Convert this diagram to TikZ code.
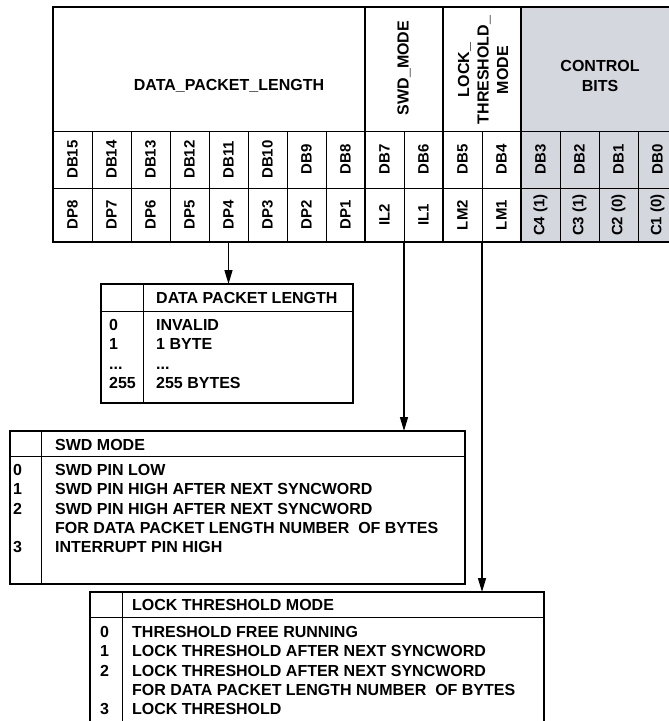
\documentclass[tikz,border=0pt]{standalone}
\usepackage{fontspec}
\setmainfont{Liberation Sans}
\usepackage{tikz}
\usetikzlibrary{arrows.meta}
\definecolor{ctrlgray}{RGB}{212,215,222}

\begin{document}
\begin{tikzpicture}[x=1pt, y=-1pt,
				thickline/.style={line width=2pt},
				thinline/.style={line width=0.9pt},
				bitlabel/.style={rotate=90, inner sep=0pt, font=\fontsize{15}{17}\selectfont\bfseries},
				fieldlabel/.style={align=center, inner sep=0pt, font=\fontsize{16}{19.5}\selectfont\bfseries},
				boxtext/.style={align=left, inner sep=0pt, font=\fontsize{16}{19.3}\selectfont\bfseries},
				tablebox/.style={draw, thickline, inner sep=0pt, outer sep=0pt, anchor=north west},
				arrowline/.style={line width=1.3pt, -{Triangle[length=14pt, width=8pt]}},
				]
		\useasboundingbox (0,0) rectangle (669,721);
		\clip (0,0) rectangle (669,721);

				%Register
				\fill[ctrlgray] (521,7) rectangle (678,242);
				\foreach \i in {1,...,15}
					\draw[thinline] ({53+39*\i},131) -- ({53+39*\i},242);
				\draw[thinline] (53,131) -- (678,131);
				\draw[thinline] (53,188) -- (678,188);
				\foreach \i in {8,10,12}
					\draw[thickline] ({53+39*\i},7) -- ({53+39*\i},242);
				\draw[thickline] (53,7) rectangle (678,242);

				\node[fieldlabel]            (dpl)  at (229,86)  {DATA\_PACKET\_LENGTH};
				\node[fieldlabel, rotate=90] (swd)  at (404,68)  {SWD\_MODE};
				\node[fieldlabel, rotate=90] (lock) at (483,70)  {LOCK\_\\THRESHOLD\_\\MODE};
				\node[fieldlabel]            (ctrl) at (600,76)  {CONTROL\\BITS};

				\foreach \bitname/\pinname [count=\i from 0] in {DB15/DP8, DB14/DP7, DB13/DP6, DB12/DP5,
						DB11/DP4, DB10/DP3, DB9/DP2, DB8/DP1, DB7/IL2, DB6/IL1, DB5/LM2, DB4/LM1,
						DB3/C4 (1), DB2/C3 (1), DB1/C2 (0), DB0/C1 (0)} {
					\node[bitlabel] (db\i) at ({72.5+39*\i},159.5) {\bitname};
					\node[bitlabel] (pin\i) at ({72.5+39*\i},215)  {\pinname};
				}

				%Boxes
				\node[tablebox, minimum width=252, minimum height=119] (dplbox)  at (101,284) {};
				\draw[thinline] (143,284) -- (143,403);
				\draw[thinline] (101,311) -- (353,311);
				\node[boxtext, anchor=west]       (dplhead) at (156,298)   {DATA PACKET LENGTH};
				\node[boxtext, anchor=north west] (dplnum)  at (109,319.2) {0\\1\\...\\255};
				\node[boxtext, anchor=north west] (dpltext) at (156,319.2) {INVALID\\1 BYTE\\...\\255 BYTES};

				\node[tablebox, minimum width=455, minimum height=153] (swdbox)  at (10,431) {};
				\draw[thinline] (41,431) -- (41,584);
				\draw[thinline] (10,456) -- (465,456);
				\node[boxtext, anchor=west]       (swdhead) at (55,445)    {SWD MODE};
				\node[boxtext, anchor=north west] (swdnum)  at (13,464.2)  {0\\1\\2\\~\\3};
				\node[boxtext, anchor=north west] (swdtext) at (55,464.2)  {SWD PIN LOW\\SWD PIN HIGH AFTER NEXT SYNCWORD\\SWD PIN HIGH AFTER NEXT SYNCWORD\\FOR DATA PACKET LENGTH NUMBER\ \ OF BYTES\\INTERRUPT PIN HIGH};

				\node[tablebox, minimum width=454, minimum height=150] (lockbox) at (90,592) {};
				\draw[thinline] (122,592) -- (122,742);
				\draw[thinline] (90,617) -- (544,617);
				\node[boxtext, anchor=west]       (lockhead) at (132,605)  {LOCK THRESHOLD MODE};
				\node[boxtext, anchor=north west] (locknum)  at (100,626.2) {0\\1\\2\\~\\3};
				\node[boxtext, anchor=north west] (locktext) at (132,626.2) {THRESHOLD FREE RUNNING\\LOCK THRESHOLD AFTER NEXT SYNCWORD\\LOCK THRESHOLD AFTER NEXT SYNCWORD\\FOR DATA PACKET LENGTH NUMBER\ \ OF BYTES\\LOCK THRESHOLD};

				%Lines
				\coordinate (dpsrc)   at (228.5,242);
				\coordinate (swdsrc)  at (404,242);
				\coordinate (locksrc) at (482,242);
				\draw[arrowline] (dpsrc)   -- (dpsrc |- dplbox.north);
				\draw[arrowline] (swdsrc)  -- (swdsrc |- swdbox.north);
				\draw[arrowline] (locksrc) -- (locksrc |- lockbox.north);
			\end{tikzpicture}
\end{document}
